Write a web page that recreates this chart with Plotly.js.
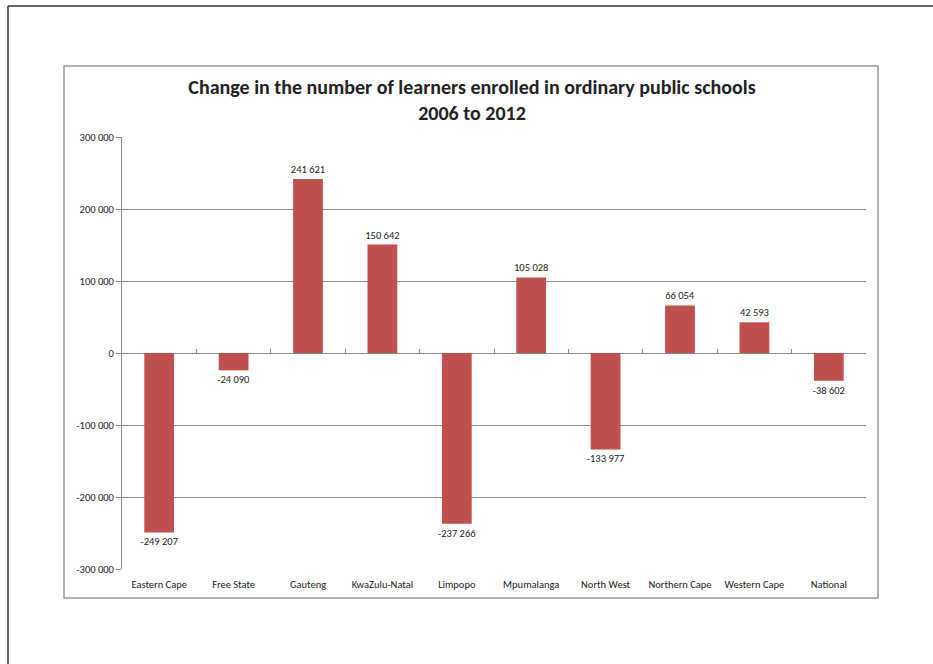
<!DOCTYPE html>
<html>
<head>
<meta charset="utf-8">
<script src="https://cdn.plot.ly/plotly-3.0.1.min.js"></script>
<style>html,body{margin:0;padding:0;background:#fff;}#chart{width:933px;height:664px;}</style>
</head>
<body>
<div id="chart"></div>
<script>
const provinces = ["Eastern Cape","Free State","Gauteng","KwaZulu-Natal","Limpopo","Mpumalanga","North West","Northern Cape","Western Cape","National"];
const changes = [-249207, -24090, 241621, 150642, -237266, 105028, -133977, 66054, 42593, -38602];
const yTickVals = [-300000, -200000, -100000, 0, 100000, 200000, 300000];
const yTickText = ["-300 000","-200 000","-100 000","0","100 000","200 000","300 000"];

function fmt(v){
  const s = Math.abs(v).toString().replace(/\B(?=(\d{3})+(?!\d))/g, " ");
  return (v < 0 ? "-" : "") + s;
}

const FONT = "Carlito, Lato, 'Liberation Sans', sans-serif";

const trace = {
  type: "bar",
  x: provinces,
  y: changes,
  marker: {color: "#C0504D"},
  text: changes.map(fmt),
  textposition: "outside",
  textfont: {family: FONT, size: 10.5, color: "#222"},
  constraintext: "none",
  cliponaxis: false,
  hoverinfo: "x+y"
};

const layout = {
  width: 933, height: 664,
  margin: {l: 122, r: 67, t: 137, b: 95},
  paper_bgcolor: "#fff", plot_bgcolor: "#fff",
  showlegend: false,
  bargap: 0.6,
  font: {family: FONT, size: 10.5, color: "#222"},
  title: {
    text: "<b>Change in the number of learners enrolled in ordinary public schools<br>2006 to 2012</b>",
    font: {family: FONT, size: 20, color: "#222"},
    x: 472/933, xref: "container", xanchor: "center",
    y: 570/664, yref: "container", yanchor: "top"
  },
  xaxis: {
    type: "category",
    categoryorder: "array", categoryarray: provinces,
    range: [-0.5, 9.5],
    showgrid: false, showline: false, zeroline: false,
    ticks: "outside", ticklen: 5, tickcolor: "rgba(0,0,0,0)",
    tickfont: {family: FONT, size: 10.5, color: "#222"},
    fixedrange: true
  },
  xaxis2: {
    type: "category",
    categoryorder: "array", categoryarray: provinces,
    overlaying: "x", matches: "x",
    anchor: "free", position: 0.5, side: "bottom",
    range: [-0.5, 9.5],
    showgrid: false, showline: false, zeroline: false,
    ticks: "inside", tickson: "boundaries", ticklen: 4, tickcolor: "#888", tickwidth: 1,
    showticklabels: false
  },
  yaxis: {
    range: [-300000, 300000],
    tickvals: yTickVals, ticktext: yTickText,
    showgrid: true, gridcolor: "#8c8c8c", gridwidth: 1,
    zeroline: true, zerolinecolor: "#8c8c8c", zerolinewidth: 1,
    showline: true, linecolor: "#8c8c8c", linewidth: 1,
    ticks: "outside", ticklen: 5, tickcolor: "#8c8c8c",
    tickfont: {family: FONT, size: 10.5, color: "#222"},
    fixedrange: true
  },
  shapes: [
    {type: "rect", xref: "paper", yref: "paper",
     x0: (64-122)/744, x1: (878-122)/744, y0: (569-598)/432, y1: (569-66)/432,
     line: {color: "#999", width: 1.5}, fillcolor: "rgba(0,0,0,0)", layer: "below"},
    {type: "line", xref: "paper", yref: "paper",
     x0: (8-122)/744, x1: (960-122)/744, y0: (569-6)/432, y1: (569-6)/432,
     line: {color: "#333", width: 1.5}, layer: "below"},
    {type: "line", xref: "paper", yref: "paper",
     x0: (8-122)/744, x1: (8-122)/744, y0: (569-6)/432, y1: (569-700)/432,
     line: {color: "#333", width: 1.5}, layer: "below"}
  ]
};

const ghost = {type: "bar", x: provinces, y: changes.map(() => null), xaxis: "x2", hoverinfo: "skip", showlegend: false};

Plotly.newPlot("chart", [trace, ghost], layout, {displayModeBar: false, staticPlot: true});
</script>
</body>
</html>
